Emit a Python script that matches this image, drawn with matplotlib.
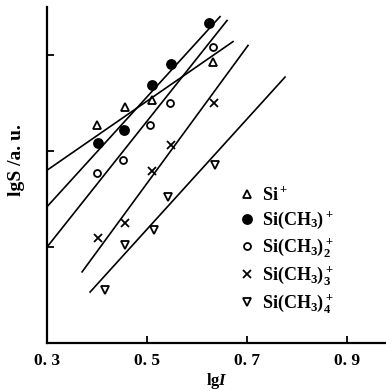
import matplotlib
matplotlib.use("Agg")
import matplotlib.pyplot as plt

# --- data (y in arbitrary units) ---
labels = [r"Si$^+$", r"Si(CH$_3$)$^+$", r"Si(CH$_3$)$_2^+$",
          r"Si(CH$_3$)$_3^+$", r"Si(CH$_3$)$_4^+$"]

si_x = [0.40, 0.456, 0.51, 0.632]
si_y = [2.27, 2.46, 2.53, 2.93]

m1_x = [0.402, 0.454, 0.51, 0.548, 0.624]
m1_y = [2.08, 2.22, 2.69, 2.91, 3.33]

m2_x = [0.40, 0.452, 0.506, 0.546, 0.632]
m2_y = [1.77, 1.91, 2.27, 2.50, 3.08]

m3_x = [0.402, 0.456, 0.51, 0.548, 0.634]
m3_y = [1.09, 1.25, 1.79, 2.06, 2.50]

m4_x = [0.416, 0.456, 0.514, 0.542, 0.636]
m4_y = [0.55, 1.02, 1.18, 1.52, 1.85]

# fitted lines, endpoints as drawn
fit_x0 = [0.30, 0.30, 0.30, 0.37, 0.386]
fit_y0 = [1.80, 1.42, 1.00, 0.74, 0.53]
fit_x1 = [0.672, 0.646, 0.66, 0.702, 0.776]
fit_y1 = [3.14, 3.40, 3.36, 3.10, 2.77]

xticks = [0.3, 0.5, 0.7, 0.9]
xticklabels = ["0. 3", "0. 5", "0. 7", "0. 9"]
yticks = [1, 2, 3]

plt.rcParams['font.family'] = ['Liberation Serif', 'DejaVu Serif']
plt.rcParams['font.weight'] = 'bold'
plt.rcParams['mathtext.fontset'] = 'custom'
plt.rcParams['mathtext.rm'] = 'Liberation Serif:bold'
plt.rcParams['mathtext.it'] = 'Liberation Serif:italic:bold'

fig = plt.figure(figsize=(3.86, 3.91), dpi=100)
ax = fig.add_axes([0.122, 0.123, 0.878, 0.859])

series = [(si_x, si_y, '^', 'none'),
          (m1_x, m1_y, 'o', 'black'),
          (m2_x, m2_y, 'o', 'none'),
          (m3_x, m3_y, 'x', 'black'),
          (m4_x, m4_y, 'v', 'none')]
sizes = [6, 6.5, 5, 6, 6]

for i, (xs, ys, mk, fc) in enumerate(series):
    ax.plot([fit_x0[i], fit_x1[i]], [fit_y0[i], fit_y1[i]],
            color='black', lw=1.2)
    ax.plot(xs, ys, linestyle='none', marker=mk, ms=sizes[i],
            mfc=fc, mec='black', mew=1.3, label=labels[i])

leg = ax.legend(loc='upper left', bbox_to_anchor=(0.57, 0.466),
                frameon=False, fontsize=13, handlelength=0.7,
                handletextpad=0.5, labelspacing=0.3, borderaxespad=0,
                borderpad=0)

ax.set_xlim(0.3, 0.978)
ax.set_ylim(0, 3.5)
ax.set_xticks(xticks)
ax.set_xticklabels(xticklabels, fontsize=12.5, fontweight='bold')
ax.set_yticks(yticks)
ax.set_yticklabels([])
ax.tick_params(direction='in', length=5, width=1.3, pad=7)
for s in ['top', 'right']:
    ax.spines[s].set_visible(False)
for s in ['left', 'bottom']:
    ax.spines[s].set_linewidth(1.6)

ax.set_xlabel(r"lg$I$", fontsize=12, fontweight='bold')
ax.xaxis.set_label_coords(0.5, -0.085)
ax.set_ylabel("lgS /a. u.", fontsize=14, fontweight='bold')
ax.yaxis.set_label_coords(-0.065, 0.545)

fig.savefig("out.png", dpi=100)
